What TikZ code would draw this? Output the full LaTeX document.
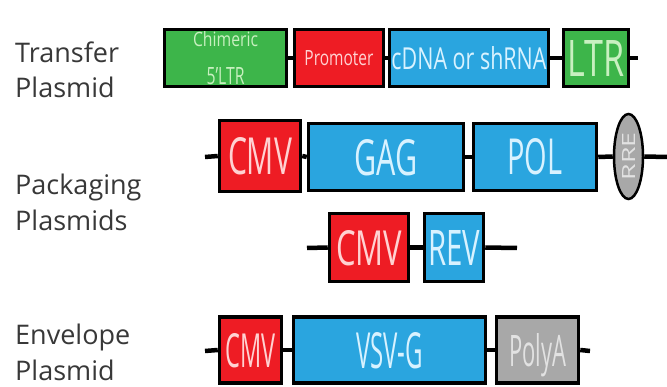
\documentclass[tikz,border=0pt]{standalone}
\usepackage{fontspec}
\usepackage{graphicx}
\setmainfont{Open Sans}
\usetikzlibrary{shapes.geometric}
\definecolor{gfill}{HTML}{3DB54A}
\definecolor{gtxt}{HTML}{C8F0C0}
\definecolor{rfill}{HTML}{EE1C24}
\definecolor{rtxt}{HTML}{FFD2D2}
\definecolor{bfill}{HTML}{2AA5DF}
\definecolor{btxt}{HTML}{D8F2FF}
\definecolor{pfill}{HTML}{A8A8A8}
\definecolor{ptxt}{HTML}{E2E2E2}
\definecolor{labc}{HTML}{383838}
\newcommand{\rb}[3]{\resizebox{#1pt}{#2pt}{#3}}
\tikzset{
  box/.style={draw=black, line width=3.5pt, rectangle, inner sep=0pt, text depth=0pt},
  gbox/.style={box, fill=gfill, text=gtxt},
  rbox/.style={box, fill=rfill, text=rtxt},
  bbox/.style={box, fill=bfill, text=btxt},
  pbox/.style={box, fill=pfill, text=ptxt},
  bone/.style={draw=black, line width=4.5pt},
  lab/.style={anchor=base west, inner sep=0pt, font=\fontsize{27}{27}\selectfont, text=labc},
}
\begin{document}
\begin{tikzpicture}[x=1pt,y=-1pt]
\useasboundingbox[fill=white] (0,0) rectangle (667,387);
% labels
\node[lab] (t1a) at (15,63) {Transfer};
\node[lab] (t1b) at (15,98) {Plasmid};
\node[lab] (t2a) at (15,195) {Packaging};
\node[lab] (t2b) at (15,231) {Plasmids};
\node[lab] (t3a) at (15,345) {Envelope};
\node[lab] (t3b) at (15,381) {Plasmid};
% row 1: transfer plasmid
\coordinate (r1e) at (638,58);
\draw[bone] (225,58) -- (r1e);
\node[gbox, minimum width=122pt, minimum height=57pt] (chim) at (225.5,58)
  {\shortstack{\rb{65}{15}{Chimeric}\\[17pt]\rb{38}{17}{5'LTR}}};
\node[rbox, minimum width=89pt, minimum height=57pt] (prom) at (339,58) {\rb{69}{15}{Promoter}};
\node[bbox, minimum width=159pt, minimum height=57pt] (cdna) at (469,58) {\rb{155}{23}{cDNA or shRNA}};
\node[gbox, minimum width=65pt, minimum height=57pt] (ltr) at (596,58) {\rb{57}{36}{LTR}};
% row 2: packaging plasmid 1
\coordinate (r2s) at (205,157);
\coordinate (r2e) at (667,157);
\node[rbox, minimum width=81pt, minimum height=71pt] (cmva) at (260,156) {\rb{64}{37}{CMV}};
\node[bbox, minimum width=155pt, minimum height=67pt] (gag) at (386,157) {\rb{63}{36}{GAG}};
\node[bbox, minimum width=123pt, minimum height=67pt] (pol) at (535,157) {\rb{55}{36}{POL}};
\node[draw=black, line width=2.5pt, ellipse, fill=pfill, text=ptxt, minimum width=29pt, minimum height=85pt, inner sep=0pt] (rre) at (628.5,156.5) {\rotatebox{90}{\rb{48}{13}{RRE}}};
\draw[bone] (r2s) -- (cmva.west);
\draw[bone] (cmva.east) -- (gag.west);
\draw[bone] (gag.east) -- (pol.west);
\draw[bone] (pol.east) -- (rre.west);
\draw[bone] (rre.east) -- (r2e);
% row 3: packaging plasmid 2
\coordinate (r3s) at (307,248);
\coordinate (r3e) at (517,248);
\node[rbox, minimum width=79pt, minimum height=68pt] (cmvb) at (369,247.5) {\rb{66}{35}{CMV}};
\node[bbox, minimum width=59pt, minimum height=68pt] (rev) at (454,247.5) {\rb{52}{35}{REV}};
\draw[bone] (r3s) -- (cmvb.west);
\draw[bone] (cmvb.east) -- (rev.west);
\draw[bone] (rev.east) -- (r3e);
% row 4: envelope plasmid
\coordinate (r4s) at (205,351);
\coordinate (r4e) at (590,351);
\node[rbox, minimum width=62pt, minimum height=66pt] (cmvc) at (250.5,350) {\rb{50}{34}{CMV}};
\node[bbox, minimum width=192pt, minimum height=66pt] (vsvg) at (389.5,350) {\rb{67}{36}{VSV-G}};
\node[pbox, minimum width=82pt, minimum height=66pt] (polya) at (537.5,350) {\rb{57}{33}{PolyA}};
\draw[bone] (r4s) -- (cmvc.west);
\draw[bone] (cmvc.east) -- (vsvg.west);
\draw[bone] (vsvg.east) -- (polya.west);
\draw[bone] (polya.east) -- (r4e);
\end{tikzpicture}
\end{document}
